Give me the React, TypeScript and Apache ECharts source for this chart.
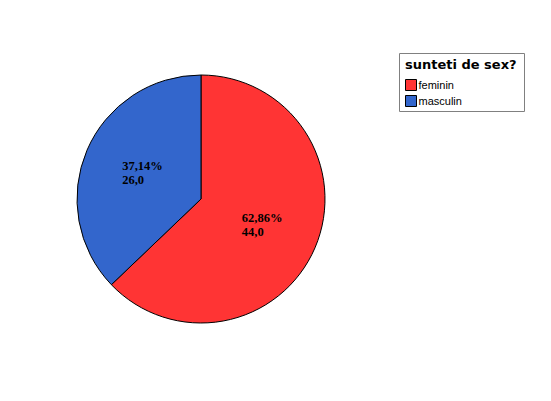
import React, { useEffect, useRef } from "react";
import * as echarts from "echarts";

const categories = ["feminin", "masculin"];
const values = [44, 26];
const colors = ["#FF3434", "#3366CC"];
const legendTitle = "sunteti de sex?";

export default function App() {
  const ref = useRef<HTMLDivElement>(null);
  useEffect(() => {
    const chart = echarts.init(ref.current!, null, { renderer: "svg" });
    chart.setOption({
      animation: false,
      backgroundColor: "#ffffff",
      title: {
        text: legendTitle,
        left: 397,
        top: 50,
        textStyle: { fontFamily: "DejaVu Sans", fontWeight: "bold", fontSize: 13, color: "#000" },
        padding: 0,
      },
      legend: {
        orient: "vertical",
        left: 397,
        top: 71,
        itemWidth: 11,
        itemHeight: 11,
        itemGap: 4,
        icon: "rect",
        padding: 0,
        textStyle: { fontFamily: "Liberation Sans", fontSize: 11, color: "#000", padding: [0, 0, 0, -3] },
        itemStyle: { borderColor: "#000", borderWidth: 1 },
        data: categories,
      },
      graphic: [
        {
          type: "rect",
          shape: { x: 391.5, y: 45.5, width: 125, height: 58 },
          style: { fill: "none", stroke: "#808080", lineWidth: 1 },
          z: -1,
        },
      ],
      series: [
        {
          type: "pie",
          center: [193, 191],
          radius: [0, 124],
          startAngle: 90,
          clockwise: true,
          itemStyle: { borderColor: "#000", borderWidth: 1 },
          emphasis: { disabled: true },
          label: {
            position: "inner",
            color: "#000",
            formatter: (p: any) =>
              "{a|" + p.percent.toFixed(2).replace(".", ",") + "%}\n{a|" + p.value.toFixed(1).replace(".", ",") + "}",
            rich: {
              a: {
                fontFamily: "Liberation Serif",
                fontWeight: "bold",
                fontSize: 12.5,
                color: "#000",
                width: 38,
                align: "left",
                lineHeight: 14,
              },
            },
          },
          labelLine: { show: false },
          data: categories.map((c, i) => ({ name: c, value: values[i], itemStyle: { color: colors[i] } })),
        },
      ],
    });
    return () => chart.dispose();
  }, []);
  return <div ref={ref} style={{ width: 543, height: 393 }} />;
}
